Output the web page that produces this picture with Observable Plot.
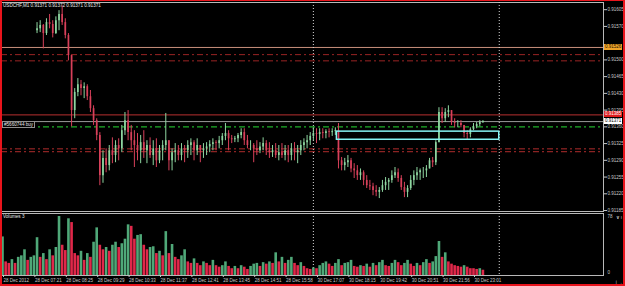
<!DOCTYPE html>
<html><head><meta charset="utf-8">
<script src="https://cdn.jsdelivr.net/npm/d3@7"></script>
<script src="https://cdn.jsdelivr.net/npm/@observablehq/plot@0.6"></script>
<style>
body{margin:0;background:#000;}
#wrap{position:relative;width:625px;height:286px;background:#000;overflow:hidden;font-family:"Liberation Sans",Arial,sans-serif;}
#wrap svg{position:absolute;left:0;display:block;}
.tag{position:absolute;font:4.5px "Liberation Sans",Arial,sans-serif;line-height:6px;height:6px;padding:0 1px;white-space:nowrap;}
.txt{position:absolute;font:4.6px "Liberation Sans",Arial,sans-serif;color:#e8e8e8;white-space:nowrap;line-height:6px;}
#border{position:absolute;left:0;top:0;width:625px;height:286px;box-sizing:border-box;border:2px solid #e8141c;border-top-width:1px;pointer-events:none;}
</style></head><body><div id="wrap"></div>
<script>
// ---------- data ----------
const symbolTitle = "USDCHF,M1  0.91371 0.91372 0.91371 0.91371";
const volumeTitle = "Volumes 3";
const firstIndex = 11;          // first visible candle (bar index)
const firstOpen = 0.91561;
const high = [
0.91578,0.91582,0.91574,0.91586,0.91595,0.91582,0.91590,0.91603,0.91613,0.91586,
0.91555,0.91509,0.91440,0.91461,0.91457,0.91452,0.91448,0.91436,0.91404,0.91377,
0.91348,0.91310,0.91314,0.91321,0.91337,0.91331,0.91335,0.91363,0.91390,0.91394,
0.91363,0.91352,0.91346,0.91342,0.91352,0.91331,0.91337,0.91331,0.91335,0.91321,
0.91331,0.91388,0.91331,0.91314,0.91325,0.91321,0.91325,0.91321,0.91331,0.91335,
0.91331,0.91335,0.91321,0.91325,0.91327,0.91331,0.91335,0.91331,0.91340,0.91346,
0.91367,0.91352,0.91342,0.91340,0.91346,0.91356,0.91356,0.91342,0.91331,0.91325,
0.91331,0.91327,0.91337,0.91331,0.91327,0.91321,0.91325,0.91321,0.91325,0.91321,
0.91321,0.91325,0.91327,0.91321,0.91331,0.91335,0.91342,0.91348,0.91358,0.91356,
0.91356,0.91356,0.91354,0.91356,0.91356,0.91358,0.91367,0.91296,0.91294,0.91300,
0.91294,0.91283,0.91279,0.91272,0.91268,0.91258,0.91248,0.91242,0.91237,0.91233,
0.91248,0.91254,0.91252,0.91268,0.91275,0.91272,0.91258,0.91244,0.91237,0.91258,
0.91268,0.91275,0.91272,0.91275,0.91279,0.91294,0.91296,0.91331,0.91400,0.91400,
0.91398,0.91404,0.91394,0.91377,0.91373,0.91373,0.91363,0.91352,0.91358,0.91367,
0.91369,0.91373,0.91373];
const low = [
0.91555,0.91557,0.91523,0.91551,0.91565,0.91546,0.91553,0.91561,0.91572,0.91544,
0.91498,0.91360,0.91377,0.91423,0.91425,0.91419,0.91415,0.91390,0.91363,0.91331,
0.91237,0.91242,0.91264,0.91268,0.91283,0.91285,0.91289,0.91306,0.91342,0.91331,
0.91310,0.91275,0.91289,0.91283,0.91294,0.91283,0.91294,0.91279,0.91275,0.91283,
0.91289,0.91310,0.91268,0.91268,0.91285,0.91289,0.91289,0.91285,0.91294,0.91300,
0.91289,0.91300,0.91285,0.91294,0.91300,0.91306,0.91310,0.91310,0.91314,0.91321,
0.91331,0.91310,0.91325,0.91327,0.91327,0.91335,0.91321,0.91314,0.91310,0.91285,
0.91300,0.91304,0.91310,0.91300,0.91294,0.91296,0.91294,0.91289,0.91294,0.91289,
0.91285,0.91289,0.91289,0.91283,0.91300,0.91310,0.91314,0.91321,0.91331,0.91325,
0.91331,0.91335,0.91335,0.91337,0.91340,0.91342,0.91272,0.91268,0.91268,0.91275,
0.91264,0.91252,0.91248,0.91248,0.91237,0.91231,0.91227,0.91216,0.91214,0.91210,
0.91223,0.91227,0.91227,0.91242,0.91252,0.91244,0.91227,0.91212,0.91212,0.91227,
0.91237,0.91248,0.91248,0.91252,0.91254,0.91272,0.91275,0.91279,0.91327,0.91367,
0.91369,0.91379,0.91363,0.91358,0.91358,0.91358,0.91337,0.91333,0.91337,0.91352,
0.91356,0.91360,0.91367];
const close = [
0.91565,0.91572,0.91555,0.91578,0.91574,0.91555,0.91582,0.91595,0.91578,0.91551,
0.91509,0.91394,0.91432,0.91448,0.91440,0.91444,0.91423,0.91398,0.91373,0.91342,
0.91258,0.91294,0.91279,0.91310,0.91300,0.91321,0.91314,0.91352,0.91373,0.91348,
0.91331,0.91321,0.91310,0.91327,0.91310,0.91321,0.91300,0.91314,0.91289,0.91310,
0.91321,0.91331,0.91289,0.91306,0.91310,0.91300,0.91314,0.91310,0.91321,0.91327,
0.91310,0.91321,0.91310,0.91314,0.91318,0.91323,0.91327,0.91325,0.91331,0.91340,
0.91346,0.91335,0.91333,0.91335,0.91342,0.91348,0.91331,0.91321,0.91321,0.91314,
0.91310,0.91318,0.91325,0.91310,0.91306,0.91310,0.91300,0.91306,0.91300,0.91310,
0.91300,0.91314,0.91306,0.91310,0.91321,0.91327,0.91331,0.91340,0.91346,0.91344,
0.91348,0.91346,0.91350,0.91348,0.91350,0.91352,0.91289,0.91279,0.91285,0.91289,
0.91272,0.91268,0.91258,0.91264,0.91248,0.91237,0.91235,0.91227,0.91223,0.91227,
0.91237,0.91244,0.91248,0.91258,0.91264,0.91252,0.91233,0.91223,0.91231,0.91248,
0.91258,0.91264,0.91268,0.91268,0.91272,0.91289,0.91285,0.91327,0.91390,0.91377,
0.91390,0.91394,0.91369,0.91367,0.91367,0.91363,0.91346,0.91344,0.91354,0.91360,
0.91365,0.91369,0.91371];
const volume = [
51,18,16,21,16,24,26,34,20,24,
26,50,24,29,21,34,26,37,78,40,
33,75,70,29,26,32,20,29,24,44,
63,40,34,37,32,40,44,37,42,48,
67,65,48,53,54,40,34,37,38,29,
32,26,58,29,41,24,21,26,34,18,
16,22,16,13,18,16,13,20,13,11,
13,18,12,9,12,9,13,11,8,12,
15,16,12,17,15,18,16,30,18,24,
16,20,24,16,13,17,12,9,8,10,
9,13,16,18,15,12,16,21,13,16,
17,20,12,11,13,12,15,11,16,13,
17,20,13,12,16,20,17,13,16,20,
15,12,16,13,17,21,16,18,25,45,
24,30,18,15,13,12,11,13,11,9,
9,8,9,7];
const timeTickIndex = [0,10,20,30,40,50,60,70,80,90,100,110,120,130,140,150];
const timeTickLabels = ["28 Dec 2012","28 Dec 07:21","28 Dec 08:25","28 Dec 09:29","28 Dec 10:33","28 Dec 11:37","28 Dec 12:41","28 Dec 13:45","28 Dec 14:51","28 Dec 15:58","30 Dec 17:07","30 Dec 18:15","30 Dec 19:42","30 Dec 20:51","30 Dec 21:56","30 Dec 23:01"];
// 0.91535 is hidden under the orange price tag in the reference
const priceTicks = [0.91605,0.91570,0.91500,0.91465,0.91430,0.91395,0.91360,0.91325,0.91290,0.91255,0.91220,0.91185];
const volumeTicks = [0, 78];
const resistanceLevel = 0.91526;
const upperDashLevels = [0.91511, 0.91498];
const stopLevel = 0.91385;
const bidLevel = 0.91371;
const orderLevel = 0.91360;
const orderLabel = "#5660744 buy";
const lowerDashLevels = [0.91314, 0.91308];
const zoneIndex = [106.5, 158.2];
const zonePrice = [0.91333, 0.91350];
const separatorIndex = [99, 158.2];
const xDomain = [-0.32, 191.4];
const priceDomain = [0.91183, 0.91620];

// ---------- build ----------
const candles = high.map((h, k) => {
  const open = k ? close[k - 1] : firstOpen;
  return {i: firstIndex + k, open, close: close[k],
    hi: Math.max(h, open, close[k]), lo: Math.min(low[k], open, close[k]), up: close[k] >= open};
});
const vols = volume.map((v, i) => ({i, v, up: i === 0 || v > volume[i - 1]}));
const UP = "#8ed6a0", DOWN = "#d8405a";
const VUP = "#4fa878", VDOWN = "#e0284a";
const AX = "#c8c8c8";
const FS = 4.5;

const price = Plot.plot({
  width: 625, height: 213, marginLeft: 1, marginRight: 22, marginTop: 2, marginBottom: 2,
  style: {background: "black", color: AX, fontFamily: "Liberation Sans, Arial, sans-serif", fontSize: FS + "px", overflow: "visible"},
  x: {domain: xDomain, axis: null},
  y: {domain: priceDomain, axis: null},
  marks: [
    Plot.frame({stroke: "#b8b8b8"}),
    Plot.ruleY([resistanceLevel], {stroke: "#c8907c", strokeWidth: 1}),
    Plot.ruleY(upperDashLevels, {stroke: "#9a2424", strokeDasharray: "6,3,2,3"}),
    Plot.ruleY(lowerDashLevels, {stroke: "#b02c2c", strokeDasharray: "6,3,2,3"}),
    Plot.ruleY([stopLevel], {stroke: "#b83030", strokeWidth: 1}),
    Plot.ruleY([bidLevel], {stroke: "#9a9a9a", strokeWidth: 1}),
    Plot.ruleY([orderLevel], {stroke: "#1fae2a", strokeWidth: 1.3, strokeDasharray: "6,3,2,3"}),
    Plot.ruleX(separatorIndex, {stroke: "#d8d8d8", strokeDasharray: "1,2"}),
    Plot.ruleX(candles, {x: "i", y1: "lo", y2: "hi", stroke: d => d.up ? UP : DOWN, strokeWidth: 1}),
    Plot.ruleX(candles, {x: "i", y1: "open", y2: "close", stroke: d => d.up ? UP : DOWN, strokeWidth: 1.7}),
    Plot.rect([0], {x1: zoneIndex[0], x2: zoneIndex[1], y1: zonePrice[0], y2: zonePrice[1], fill: "none", stroke: "#86f2f2", strokeWidth: 1.5}),
    Plot.axisY({anchor: "right", ticks: priceTicks, tickFormat: d => d.toFixed(5), tickSize: 3, tickPadding: 1, color: AX, fontSize: FS})
  ]
});

const vol = Plot.plot({
  width: 625, height: 74, marginLeft: 1, marginRight: 22, marginTop: 1, marginBottom: 11,
  style: {background: "black", color: AX, fontFamily: "Liberation Sans, Arial, sans-serif", fontSize: FS + "px", overflow: "visible"},
  x: {domain: xDomain, axis: null},
  y: {domain: [0, 82], axis: null},
  marks: [
    Plot.frame({stroke: "#b8b8b8"}),
    Plot.ruleX(separatorIndex, {stroke: "#d8d8d8", strokeDasharray: "1,2"}),
    Plot.ruleX(vols, {x: "i", y1: 0, y2: "v", stroke: d => d.up ? VUP : VDOWN, strokeWidth: 2.6}),
    Plot.axisY({anchor: "right", ticks: [volumeTicks[1]], tickSize: 0, tickPadding: 4, color: AX, fontSize: FS}),
    Plot.axisY({anchor: "right", ticks: [volumeTicks[0]], tickSize: 0, tickPadding: 4, dy: -3, color: AX, fontSize: FS}),
    Plot.axisX({anchor: "bottom", ticks: timeTickIndex, tickFormat: d => timeTickLabels[timeTickIndex.indexOf(d)], tickSize: 2, tickPadding: 1, textAnchor: "start", dx: 1, color: AX, fontSize: FS})
  ]
});

const wrap = document.getElementById("wrap");
price.style.top = "0px";
vol.style.top = "212px";
wrap.appendChild(price);
wrap.appendChild(vol);

const ys = price.scale("y");
function tag(v, bg, fg) {
  const d = document.createElement("div");
  d.className = "tag";
  d.textContent = v.toFixed(5);
  d.style.left = "604px";
  d.style.top = (ys.apply(v) - 3) + "px";
  d.style.background = bg; d.style.color = fg;
  wrap.appendChild(d);
}
tag(resistanceLevel, "#f0a428", "#201000");
tag(stopLevel, "#e01c1c", "#ffffff");
tag(bidLevel, "#ffffff", "#000000");

const t1 = document.createElement("div");
t1.className = "txt"; t1.textContent = symbolTitle;
t1.style.left = "3px"; t1.style.top = "3px";
wrap.appendChild(t1);
const t2 = document.createElement("div");
t2.className = "txt"; t2.textContent = volumeTitle;
t2.style.left = "3px"; t2.style.top = "214px";
wrap.appendChild(t2);
const ob = document.createElement("div");
ob.className = "txt"; ob.textContent = orderLabel;
ob.style.left = "2px"; ob.style.top = (ys.apply(orderLevel) - 5.5) + "px";
ob.style.border = "0.5px solid #909090"; ob.style.padding = "0 1px"; ob.style.lineHeight = "5px"; ob.style.background = "#000";
wrap.appendChild(ob);

const b = document.createElement("div"); b.id = "border"; wrap.appendChild(b);
</script>
</body></html>
